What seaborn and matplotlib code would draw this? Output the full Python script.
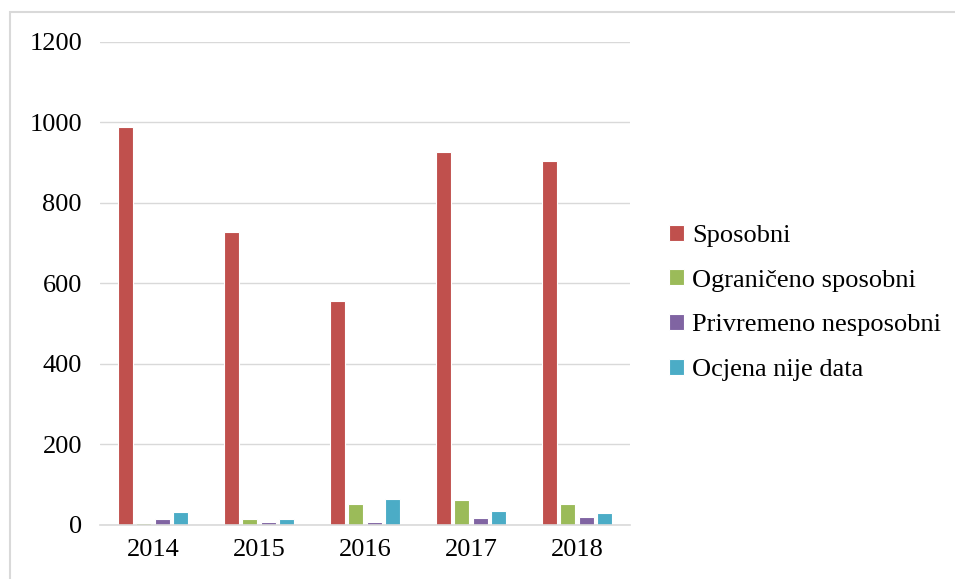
import pandas as pd
import seaborn as sns
import matplotlib.pyplot as plt
from matplotlib.patches import Rectangle

# Data
years = ["2014", "2015", "2016", "2017", "2018"]
sposobni = [988, 727, 557, 927, 905]
ograniceno = [4, 14, 52, 62, 52]
privremeno = [14, 7, 7, 17, 20]
nije_data = [32, 14, 64, 35, 30]

series = ["Sposobni", "Ograničeno sposobni", "Privremeno nesposobni", "Ocjena nije data"]
colors = ["#C0504D", "#9BBB59", "#8064A2", "#4BACC6"]

df = pd.DataFrame({
    "Godina": years,
    series[0]: sposobni,
    series[1]: ograniceno,
    series[2]: privremeno,
    series[3]: nije_data,
})
long_df = df.melt(id_vars="Godina", var_name="Ocjena", value_name="Broj")

sns.set_style("white")
plt.rcParams["font.family"] = ["Liberation Serif", "DejaVu Serif"]
plt.rcParams["text.color"] = "black"

fig = plt.figure(figsize=(9.55, 5.79), dpi=100)
ax = fig.add_axes([0.1047, 0.0933, 0.555, 0.8342])

sns.barplot(data=long_df, x="Godina", y="Broj", hue="Ocjena", hue_order=series,
            palette=colors, saturation=1, width=0.7, gap=0.2,
            edgecolor="white", linewidth=0.8, ax=ax, legend=True)

ax.set_ylim(0, 1200)
ax.set_yticks(range(0, 1201, 200))
ax.yaxis.grid(True, color="#D9D9D9", linewidth=1)
ax.set_axisbelow(True)
ax.set_xlabel("")
ax.set_ylabel("")
for s in ["top", "right", "left"]:
    ax.spines[s].set_visible(False)
ax.spines["bottom"].set_color("#D9D9D9")
ax.spines["bottom"].set_linewidth(1.2)
ax.tick_params(axis="both", length=0, labelsize=19, colors="black")
ax.tick_params(axis="y", pad=13)
ax.tick_params(axis="x", pad=10)

handles, labels = ax.get_legend_handles_labels()
ax.get_legend().remove()
fig.legend(handles, labels, loc="center left", bbox_to_anchor=(0.701, 0.477),
           frameon=False, fontsize=19, handlelength=0.55, handleheight=0.55,
           handletextpad=0.3, labelspacing=0.85, borderaxespad=0, borderpad=0,
           labelcolor="black")

# light gray chart border
fig.patches.append(Rectangle((10 / 955, -0.01), 1.0, 1 - 12 / 579 + 0.01,
                             transform=fig.transFigure, fill=False,
                             edgecolor="#D9D9D9", linewidth=1.5))

plt.savefig("out.png", dpi=100)
